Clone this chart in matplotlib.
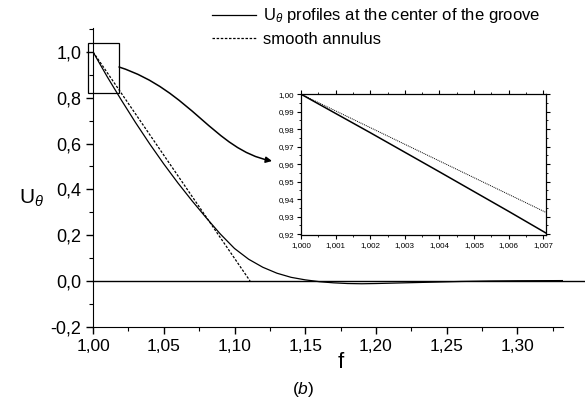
import matplotlib
matplotlib.use("Agg")
import matplotlib.pyplot as plt
from matplotlib.ticker import MultipleLocator, FuncFormatter
from matplotlib.patches import Rectangle, FancyArrowPatch
from matplotlib.path import Path

plt.rcParams['font.family'] = ['Liberation Sans', 'DejaVu Sans']
plt.rcParams['mathtext.fontset'] = 'custom'
plt.rcParams['mathtext.rm'] = 'Liberation Sans'
plt.rcParams['mathtext.it'] = 'Liberation Sans:italic'

# groove-centre profile
f_groove = [1.000, 1.010, 1.020, 1.030, 1.040, 1.050, 1.060, 1.070, 1.080,
            1.090, 1.100, 1.110, 1.120, 1.130, 1.140, 1.150, 1.160, 1.170,
            1.180, 1.190, 1.200, 1.220, 1.240, 1.260, 1.280, 1.300, 1.340]
u_groove = [1.000, 0.892, 0.790, 0.692, 0.599, 0.511, 0.428, 0.350, 0.276,
            0.205, 0.142, 0.095, 0.060, 0.034, 0.016, 0.005, -0.003, -0.008,
            -0.011, -0.012, -0.011, -0.008, -0.005, -0.002, 0.000, 0.001, 0.002]
# smooth annulus
f_smooth = [1.000, 1.111]
u_smooth = [1.000, 0.000]

# inset (zoom near f = 1)
f_in = [1.000, 1.001, 1.002, 1.003, 1.004, 1.005, 1.006, 1.007, 1.0072]
u_in_groove = [1.000, 0.9890, 0.9780, 0.9668, 0.9556, 0.9443, 0.9330, 0.9215, 0.9192]
u_in_smooth = [1.000, 0.99045, 0.9809, 0.97135, 0.9618, 0.95225, 0.9427, 0.93315, 0.9312]

def comma(nd):
    return FuncFormatter(lambda v, p: ("%.*f" % (nd, v)).replace('.', ','))

fig = plt.figure(figsize=(5.85, 4.07), dpi=100)
ax = fig.add_axes([0.159, 0.197, 0.803, 0.734])

ax.plot(f_groove, u_groove, color='black', lw=0.9,
        label=r'U$_\theta$ profiles at the center of the groove')
ax.plot(f_smooth, u_smooth, color='black', lw=0.9, ls=(0, (2, 1.3)),
        label='smooth annulus')
ax.axhline(0, xmin=0, xmax=1.07, color='black', lw=1.0, clip_on=False)

ax.set_xlim(1.0, 1.332)
ax.set_ylim(-0.2, 1.104)
for s in ['top', 'right']:
    ax.spines[s].set_visible(False)
ax.xaxis.set_major_locator(MultipleLocator(0.05))
ax.xaxis.set_minor_locator(MultipleLocator(0.025))
ax.yaxis.set_major_locator(MultipleLocator(0.2))
ax.yaxis.set_minor_locator(MultipleLocator(0.1))
ax.xaxis.set_major_formatter(comma(2))
ax.yaxis.set_major_formatter(comma(1))
ax.tick_params(which='major', direction='out', length=5, width=1)
ax.tick_params(axis='x', labelsize=12.5)
ax.tick_params(axis='y', labelsize=13)
ax.tick_params(which='minor', direction='out', length=3, width=0.8)
ax.set_xlabel('f', fontsize=16, va='top')
ax.xaxis.set_label_coords(0.527, -0.085)
ax.set_ylabel(r'U$_\theta$', fontsize=15, rotation=0, va='center')
ax.yaxis.set_label_coords(-0.13, 0.43)

ax.legend(loc='upper left', bbox_to_anchor=(0.24, 1.095), frameon=False,
          fontsize=12, handlelength=2.6, handletextpad=0.45, labelspacing=0.4,
          borderaxespad=0)

# zoom box
ax.add_patch(Rectangle((0.9965, 0.82), 0.022, 0.22, fill=False, lw=0.9,
                       edgecolor='black', clip_on=False))

fig.text(0.518, 0.042, r'($\it{b}$)', fontsize=12.5, ha='center', va='center')

# inset
axi = fig.add_axes([0.5145, 0.4226, 0.419, 0.346])
axi.plot(f_in, u_in_groove, color='black', lw=1.1)
axi.plot(f_in, u_in_smooth, color='black', lw=0.7, ls=(0, (1, 1)))
axi.set_xlim(1.0, 1.00708)
axi.set_ylim(0.9195, 1.0)
axi.xaxis.set_major_locator(MultipleLocator(0.001))
axi.xaxis.set_minor_locator(MultipleLocator(0.0005))
axi.yaxis.set_major_locator(MultipleLocator(0.01))
axi.yaxis.set_minor_locator(MultipleLocator(0.005))
axi.xaxis.set_major_formatter(comma(3))
axi.yaxis.set_major_formatter(comma(2))
axi.tick_params(which='major', direction='out', length=3, width=0.8,
                labelsize=5.8, pad=2)
axi.tick_params(which='minor', direction='out', length=1.5, width=0.6)
axi.tick_params(which='both', top=True, right=True)
for sp in axi.spines.values():
    sp.set_linewidth(0.9)

# curved arrow from the box to the inset
verts = [(0.2034, 0.8354), (0.325, 0.779), (0.3675, 0.6314), (0.465, 0.6044)]
codes = [Path.MOVETO, Path.CURVE4, Path.CURVE4, Path.CURVE4]
arr = FancyArrowPatch(path=Path(verts, codes), arrowstyle='-|>',
                      mutation_scale=9, lw=1.1, color='black',
                      transform=fig.transFigure)
fig.patches.append(arr)

fig.savefig('out.png', dpi=100)
